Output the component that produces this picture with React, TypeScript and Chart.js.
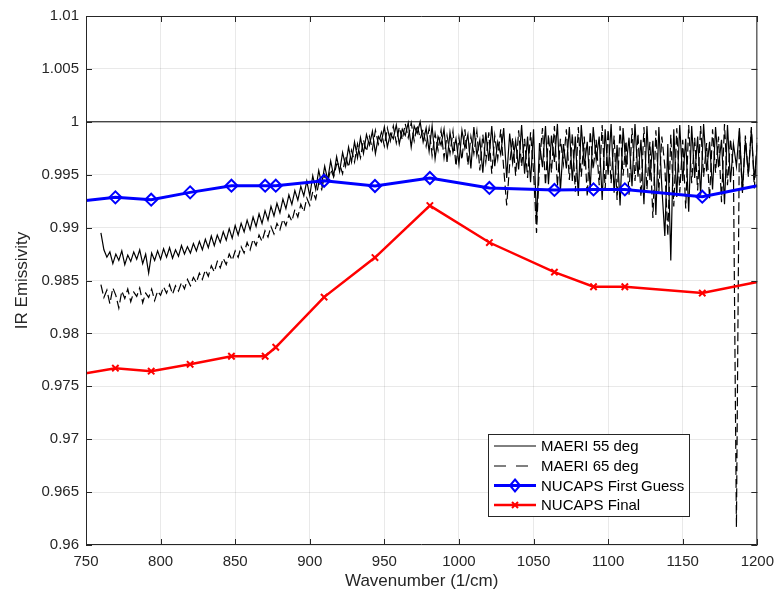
import React, { useEffect, useRef } from "react";
import { Chart, registerables } from "chart.js";

Chart.register(...registerables);

// ---- MAERI spectra (sampled every 2 cm-1 from 760 to 1200 cm-1) ----
const MAERI_START = 760;
const MAERI_STEP = 2;

const maeri55: number[] = [
  0.9895, 0.9879, 0.9872, 0.9877, 0.9866, 0.9875, 0.9869, 0.9878, 0.9865, 0.9874,
  0.9868, 0.9877, 0.9870, 0.9879, 0.9866, 0.9875, 0.9857, 0.9876, 0.9869, 0.9878,
  0.9870, 0.9880, 0.9872, 0.9881, 0.9871, 0.9879, 0.9873, 0.9883, 0.9875, 0.9882,
  0.9876, 0.9885, 0.9878, 0.9887, 0.9879, 0.9889, 0.9881, 0.9892, 0.9883, 0.9893,
  0.9886, 0.9896, 0.9888, 0.9899, 0.9890, 0.9902, 0.9893, 0.9904, 0.9896, 0.9907,
  0.9898, 0.9910, 0.9901, 0.9913, 0.9904, 0.9916, 0.9907, 0.9920, 0.9911, 0.9923,
  0.9914, 0.9927, 0.9918, 0.9931, 0.9922, 0.9935, 0.9926, 0.9939, 0.9930, 0.9944,
  0.9930, 0.9949, 0.9936, 0.9954, 0.9941, 0.9958, 0.9945, 0.9963, 0.9949, 0.9967,
  0.9953, 0.9971, 0.9958, 0.9976, 0.9962, 0.9981, 0.9966, 0.9985, 0.9970, 0.9988,
  0.9978, 0.9991, 0.9970, 0.9986, 0.9981, 0.9995, 0.9976, 0.9989, 0.9984, 0.9997,
  0.9979, 0.9993, 0.9987, 0.9999, 0.9976, 0.9996, 0.9989, 1.0000, 0.9981, 0.9994,
  0.9972, 0.9996, 0.9965, 0.9986, 0.9978, 0.9993, 0.9962, 0.9990, 0.9971, 0.9984,
  0.9960, 0.9992, 0.9975, 0.9988, 0.9956, 0.9995, 0.9968, 0.9983, 0.9952, 0.9990,
  0.9963, 0.9996, 0.9958, 0.9981, 0.9969, 0.9994, 0.9947, 0.9989, 0.9961, 0.9982,
  0.9955, 0.9997, 0.9951, 0.9986, 0.9943, 0.9993, 0.9905, 0.9980, 0.9957, 0.9996,
  0.9941, 0.9987, 0.9962, 0.9998, 0.9935, 0.9979, 0.9956, 0.9995, 0.9944, 0.9986,
  0.9930, 0.9997, 0.9958, 0.9981, 0.9937, 0.9995, 0.9964, 0.9986, 0.9926, 0.9993,
  0.9950, 0.9998, 0.9933, 0.9978, 0.9921, 0.9994, 0.9957, 0.9985, 0.9939, 0.9998,
  0.9948, 0.9983, 0.9922, 0.9996, 0.9945, 0.9982, 0.9912, 0.9995, 0.9938, 0.9892,
  0.9979, 0.9869, 0.9993, 0.9929, 0.9997, 0.9944, 0.9984, 0.9915, 0.9996, 0.9947,
  0.9986, 0.9931, 0.9998, 0.9953, 0.9981, 0.9936, 0.9995, 0.9957, 0.9983, 0.9922,
  0.9997, 0.9943, 0.9979, 0.9958, 0.9994, 0.9934, 0.9982, 0.9951, 0.9992, 0.9945,
  0.9978,
];

const maeri65: number[] = [
  0.9846, 0.9834, 0.9841, 0.9828, 0.9843, 0.9836, 0.9824, 0.9840, 0.9833, 0.9842,
  0.9830, 0.9839, 0.9835, 0.9843, 0.9829, 0.9838, 0.9834, 0.9842, 0.9831, 0.9840,
  0.9836, 0.9844, 0.9838, 0.9846, 0.9837, 0.9845, 0.9840, 0.9848, 0.9842, 0.9851,
  0.9845, 0.9853, 0.9848, 0.9857, 0.9851, 0.9860, 0.9854, 0.9864, 0.9858, 0.9868,
  0.9862, 0.9871, 0.9865, 0.9875, 0.9869, 0.9878, 0.9872, 0.9882, 0.9876, 0.9886,
  0.9879, 0.9889, 0.9883, 0.9893, 0.9887, 0.9897, 0.9891, 0.9901, 0.9894, 0.9904,
  0.9898, 0.9908, 0.9902, 0.9912, 0.9906, 0.9917, 0.9910, 0.9922, 0.9915, 0.9928,
  0.9921, 0.9934, 0.9927, 0.9942, 0.9936, 0.9950, 0.9943, 0.9955, 0.9948, 0.9960,
  0.9960, 0.9951, 0.9968, 0.9957, 0.9973, 0.9962, 0.9979, 0.9966, 0.9983, 0.9972,
  0.9986, 0.9974, 0.9992, 0.9979, 0.9990, 0.9977, 0.9994, 0.9982, 0.9996, 0.9980,
  0.9995, 0.9983, 0.9998, 0.9985, 0.9999, 0.9982, 0.9997, 0.9984, 0.9993, 0.9977,
  0.9994, 0.9968, 0.9989, 0.9973, 0.9992, 0.9966, 0.9987, 0.9970, 0.9991, 0.9958,
  0.9985, 0.9964, 0.9993, 0.9959, 0.9986, 0.9970, 0.9991, 0.9954, 0.9988, 0.9962,
  0.9990, 0.9951, 0.9987, 0.9965, 0.9993, 0.9956, 0.9921, 0.9960, 0.9985, 0.9949,
  0.9992, 0.9958, 0.9984, 0.9947, 0.9990, 0.9953, 0.9895, 0.9961, 0.9994, 0.9940,
  0.9988, 0.9952, 0.9996, 0.9939, 0.9984, 0.9960, 0.9993, 0.9945, 0.9989, 0.9934,
  0.9995, 0.9948, 0.9986, 0.9929, 0.9991, 0.9955, 0.9983, 0.9940, 0.9997, 0.9936,
  0.9993, 0.9942, 0.9987, 0.9926, 0.9996, 0.9949, 0.9982, 0.9931, 0.9994, 0.9944,
  0.9989, 0.9929, 0.9995, 0.9936, 0.9981, 0.9909, 0.9992, 0.9934, 0.9986, 0.9958,
  0.9892, 0.9988, 0.9920, 0.9994, 0.9933, 0.9983, 0.9918, 0.9997, 0.9942, 0.9985,
  0.9935, 0.9996, 0.9948, 0.9980, 0.9927, 0.9993, 0.9952, 0.9986, 0.9924, 0.9998,
  0.9940, 0.9984, 0.9955, 0.9617, 0.9991, 0.9932, 0.9987, 0.9948, 0.9995, 0.9937,
  0.9985,
];

// ---- NUCAPS emissivity at hinge points (first/last are axis-edge crossings) ----
const hingeWavenumbers = [750, 769.7, 793.7, 819.8, 847.5, 870.1, 877.2, 909.6, 943.7, 980.5, 1020.4, 1064, 1090.2, 1111.2, 1163.1, 1200];
const nucapsFirstGuess = [0.99255, 0.99286, 0.99264, 0.99333, 0.99396, 0.99396, 0.99396, 0.99443, 0.99393, 0.99469, 0.99375, 0.99356, 0.99361, 0.99361, 0.99292, 0.99396];
const nucapsFinal = [0.97624, 0.97671, 0.97643, 0.97708, 0.97784, 0.97784, 0.97869, 0.98343, 0.98717, 0.99208, 0.98859, 0.98579, 0.98441, 0.98441, 0.98381, 0.98485];

// reference line at unity emissivity
const unityX = [750, 1200];
const unityY = [1, 1];

// ---- axes ----
const X_TICKS = [750, 800, 850, 900, 950, 1000, 1050, 1100, 1150, 1200];
const X_TICK_LABELS = ["750", "800", "850", "900", "950", "1000", "1050", "1100", "1150", "1200"];
const Y_TICKS = [0.96, 0.965, 0.97, 0.975, 0.98, 0.985, 0.99, 0.995, 1, 1.005, 1.01];
const Y_TICK_LABELS = ["0.96", "0.965", "0.97", "0.975", "0.98", "0.985", "0.99", "0.995", "1", "1.005", "1.01"];

const LEGEND_LABELS = ["MAERI 55 deg", "MAERI 65 deg", "NUCAPS First Guess", "NUCAPS Final"];

const FONT = "'Liberation Sans', Arial, Helvetica, sans-serif";
const AXIS_COLOR = "#262626";
const GRID_COLOR = "rgba(38,38,38,0.1)";
const BLUE = "#0000ff";
const RED = "#ff0000";

const spectrum = (vals: number[]) => vals.map((v, i) => ({ x: MAERI_START + i * MAERI_STEP, y: v }));
const pairs = (xs: number[], ys: number[]) => xs.map((x, i) => ({ x, y: ys[i] }));
const hingeRadius = (r: number) => hingeWavenumbers.map((_, i) => (i === 0 || i === hingeWavenumbers.length - 1 ? 0 : r));

const framePlugin = {
  id: "matlabFrame",
  afterDatasetsDraw(chart: any) {
    const { ctx, chartArea, scales } = chart;
    const { left, right, top, bottom } = chartArea;
    ctx.save();
    ctx.strokeStyle = AXIS_COLOR;
    ctx.lineWidth = 1;
    ctx.beginPath();
    ctx.rect(left + 0.5, top + 0.5, right - left - 1, bottom - top - 1);
    ctx.stroke();
    const tl = 6;
    ctx.beginPath();
    X_TICKS.forEach((v) => {
      const px = Math.round(scales.x.getPixelForValue(v)) + 0.5;
      ctx.moveTo(px, bottom);
      ctx.lineTo(px, bottom - tl);
      ctx.moveTo(px, top);
      ctx.lineTo(px, top + tl);
    });
    Y_TICKS.forEach((v) => {
      const py = Math.round(scales.y.getPixelForValue(v)) + 0.5;
      ctx.moveTo(left, py);
      ctx.lineTo(left + tl, py);
      ctx.moveTo(right, py);
      ctx.lineTo(right - tl, py);
    });
    ctx.stroke();
    ctx.restore();
  },
  afterDraw(chart: any) {
    const { ctx } = chart;
    const bx = 488, by = 434, bw = 202, bh = 83;
    ctx.save();
    ctx.fillStyle = "#ffffff";
    ctx.fillRect(bx, by, bw, bh);
    ctx.strokeStyle = AXIS_COLOR;
    ctx.lineWidth = 1;
    ctx.strokeRect(bx + 0.5, by + 0.5, bw - 1, bh - 1);
    const rows = [446, 466, 485.5, 505];
    const x0 = 494, x1 = 536, xm = 515;
    ctx.font = `15px ${FONT}`;
    ctx.textBaseline = "middle";
    ctx.textAlign = "left";
    rows.forEach((ry, i) => {
      ctx.save();
      ctx.beginPath();
      if (i === 0) {
        ctx.strokeStyle = "#000";
        ctx.lineWidth = 1;
      } else if (i === 1) {
        ctx.strokeStyle = "#000";
        ctx.lineWidth = 1;
        ctx.setLineDash([12, 10]);
      } else if (i === 2) {
        ctx.strokeStyle = BLUE;
        ctx.lineWidth = 3;
      } else {
        ctx.strokeStyle = RED;
        ctx.lineWidth = 2.5;
      }
      ctx.moveTo(x0, ry);
      ctx.lineTo(x1, ry);
      ctx.stroke();
      ctx.setLineDash([]);
      if (i === 2) {
        ctx.lineWidth = 2;
        ctx.beginPath();
        ctx.moveTo(xm, ry - 6);
        ctx.lineTo(xm + 5, ry);
        ctx.lineTo(xm, ry + 6);
        ctx.lineTo(xm - 5, ry);
        ctx.closePath();
        ctx.stroke();
      } else if (i === 3) {
        ctx.lineWidth = 2;
        ctx.beginPath();
        ctx.moveTo(xm - 3, ry - 3);
        ctx.lineTo(xm + 3, ry + 3);
        ctx.moveTo(xm + 3, ry - 3);
        ctx.lineTo(xm - 3, ry + 3);
        ctx.stroke();
      }
      ctx.restore();
      ctx.fillStyle = "#000";
      ctx.fillText(LEGEND_LABELS[i], 541, ry + 1);
    });
    ctx.restore();
  },
};

export default function App() {
  const canvasRef = useRef<HTMLCanvasElement | null>(null);

  useEffect(() => {
    if (!canvasRef.current) return;
    const chart = new Chart(canvasRef.current, {
      type: "line",
      data: {
        datasets: [
          {
            label: LEGEND_LABELS[0],
            data: spectrum(maeri55),
            borderColor: "#000000",
            borderWidth: 1.2,
            pointRadius: 0,
            tension: 0,
            order: 3,
          },
          {
            label: LEGEND_LABELS[1],
            data: spectrum(maeri65),
            borderColor: "#000000",
            borderWidth: 1.2,
            borderDash: [9, 4],
            pointRadius: 0,
            tension: 0,
            order: 4,
          },
          {
            label: LEGEND_LABELS[2],
            data: pairs(hingeWavenumbers, nucapsFirstGuess),
            borderColor: BLUE,
            borderWidth: 3,
            pointStyle: "rectRot",
            pointRadius: hingeRadius(6),
            pointBorderWidth: 2,
            pointBorderColor: BLUE,
            pointBackgroundColor: "rgba(0,0,0,0)",
            tension: 0,
            order: 1,
          },
          {
            label: LEGEND_LABELS[3],
            data: pairs(hingeWavenumbers, nucapsFinal),
            borderColor: RED,
            borderWidth: 2.5,
            pointStyle: "crossRot",
            pointRadius: hingeRadius(4.5),
            pointBorderWidth: 2,
            pointBorderColor: RED,
            pointBackgroundColor: RED,
            tension: 0,
            order: 2,
          },
          {
            label: "unity",
            data: pairs(unityX, unityY),
            borderColor: "#000000",
            borderWidth: 1,
            pointRadius: 0,
            order: 5,
          },
        ],
      },
      options: {
        responsive: false,
        animation: false,
        events: [],
        layout: { padding: { top: 15, right: 19, left: 0, bottom: 0 } },
        plugins: {
          legend: { display: false },
          tooltip: { enabled: false },
        },
        scales: {
          x: {
            type: "linear",
            min: 750,
            max: 1200,
            afterFit: (scale: any) => {
              scale.height = 49;
            },
            afterBuildTicks: (scale: any) => {
              scale.ticks = X_TICKS.map((v) => ({ value: v }));
            },
            ticks: {
              autoSkip: false,
              maxRotation: 0,
              padding: 8,
              color: AXIS_COLOR,
              font: { family: FONT, size: 15 },
              callback: (value: any) => X_TICK_LABELS[X_TICKS.indexOf(Number(value))] ?? "",
            },
            grid: {
              color: GRID_COLOR,
              lineWidth: 1,
              drawTicks: false,
            },
            border: { display: false },
            title: {
              display: true,
              text: "Wavenumber (1/cm)",
              color: AXIS_COLOR,
              font: { family: FONT, size: 17 },
              padding: { top: 0, bottom: 2 },
            },
          },
          y: {
            type: "linear",
            min: 0.96,
            max: 1.01,
            afterFit: (scale: any) => {
              scale.width = 86;
            },
            afterBuildTicks: (scale: any) => {
              scale.ticks = Y_TICKS.map((v) => ({ value: v }));
            },
            ticks: {
              autoSkip: false,
              padding: 7,
              color: AXIS_COLOR,
              font: { family: FONT, size: 15 },
              callback: (value: any) => {
                const idx = Y_TICKS.findIndex((t) => Math.abs(t - Number(value)) < 1e-9);
                return idx >= 0 ? Y_TICK_LABELS[idx] : "";
              },
            },
            grid: {
              color: GRID_COLOR,
              lineWidth: 1,
              drawTicks: false,
            },
            border: { display: false },
            title: {
              display: true,
              text: "IR Emissivity",
              color: AXIS_COLOR,
              font: { family: FONT, size: 17 },
              padding: { top: 12, bottom: 0 },
            },
          },
        },
      },
      plugins: [framePlugin],
    });
    return () => chart.destroy();
  }, []);

  return (
    <div style={{ position: "fixed", left: 0, top: 0, width: 782, height: 594, background: "#fff" }}>
      <canvas ref={canvasRef} width={782} height={594} style={{ display: "block" }} />
    </div>
  );
}
